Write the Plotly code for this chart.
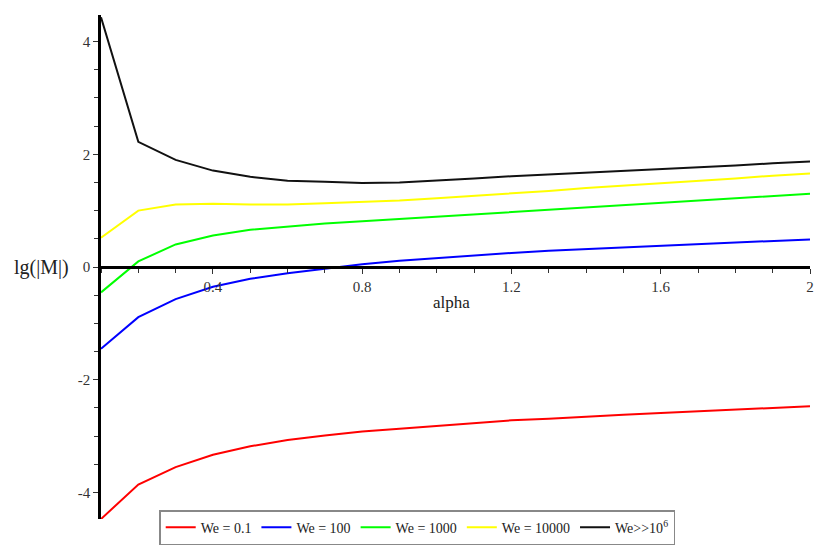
import plotly.graph_objects as go

# alpha grid and lg(|M|) for each Weber number
alpha = [0.1, 0.2, 0.3, 0.4, 0.5, 0.6, 0.7, 0.8, 0.9, 1.0,
         1.1, 1.2, 1.3, 1.4, 1.5, 1.6, 1.7, 1.8, 1.9, 2.0]

we_01 = [-4.47, -3.86, -3.55, -3.33, -3.18, -3.07, -2.99, -2.92, -2.87, -2.82,
         -2.77, -2.72, -2.69, -2.65, -2.62, -2.59, -2.56, -2.53, -2.50, -2.47]
we_100 = [-1.45, -0.89, -0.57, -0.35, -0.21, -0.11, -0.03, 0.05, 0.11, 0.16,
          0.21, 0.25, 0.29, 0.32, 0.35, 0.38, 0.41, 0.44, 0.47, 0.49]
we_1000 = [-0.45, 0.10, 0.40, 0.56, 0.66, 0.72, 0.77, 0.81, 0.85, 0.89,
           0.93, 0.97, 1.01, 1.05, 1.09, 1.13, 1.17, 1.21, 1.25, 1.30]
we_10000 = [0.52, 1.00, 1.11, 1.12, 1.11, 1.11, 1.13, 1.15, 1.18, 1.22,
            1.26, 1.31, 1.35, 1.40, 1.44, 1.49, 1.53, 1.57, 1.62, 1.66]
we_big = [4.43, 2.22, 1.90, 1.71, 1.60, 1.53, 1.51, 1.49, 1.50, 1.53,
          1.57, 1.61, 1.64, 1.67, 1.71, 1.74, 1.77, 1.80, 1.84, 1.87]

series_names = ["We = 0.1", "We = 100", "We = 1000", "We = 10000", "We>>10<sup>6</sup>"]
series_values = [we_01, we_100, we_1000, we_10000, we_big]
series_colors = ["#ff0000", "#0000ff", "#00ff00", "#ffff00", "#111111"]

x_ticks = [0.4, 0.8, 1.2, 1.6, 2.0]
x_ticktext = ["0.4", "0.8", "1.2", "1.6", "2"]
y_ticks = [-4, -2, 0, 2, 4]
y_ticktext = ["-4", "-2", "0", "2", "4"]

FONT = "Liberation Serif, Times New Roman, serif"

fig = go.Figure()
for name, vals, col in zip(series_names, series_values, series_colors):
    fig.add_trace(go.Scatter(x=alpha, y=vals, mode="lines", name=name,
                             line=dict(color=col, width=2)))

Y_MAX = 4.47
fig.update_layout(
    width=815, height=545,
    margin=dict(l=101, r=5, t=15, b=26, autoexpand=False),
    paper_bgcolor="white", plot_bgcolor="white",
    font=dict(family=FONT, size=14, color="#222222"),
    showlegend=True,
    legend=dict(orientation="h", x=0.446, xanchor="center", y=-0.052, yanchor="bottom",
                bordercolor="#888888", borderwidth=1.5, bgcolor="white",
                font=dict(family=FONT, size=14, color="#222222"),
                tracegroupgap=0, itemwidth=30),
    xaxis=dict(range=[0.1, 2.0], anchor="free", position=0.5,
               showline=True, linecolor="black", linewidth=2.5,
               showgrid=False, zeroline=False,
               tickvals=x_ticks, ticktext=x_ticktext,
               ticks="outside", ticklen=5, tickcolor="#333333", tickwidth=1,
               minor=dict(ticks="outside", dtick=0.1, tick0=0, ticklen=4,
                          tickcolor="#333333", showgrid=False),
               tickfont=dict(family=FONT, size=15, color="#333333")),
    yaxis=dict(range=[-Y_MAX, Y_MAX],
               showline=True, linecolor="black", linewidth=2.5,
               showgrid=False, zeroline=False,
               tickvals=y_ticks, ticktext=y_ticktext,
               ticks="outside", ticklen=5, tickcolor="#333333", tickwidth=1,
               minor=dict(ticks="outside", dtick=0.5, tick0=0, ticklen=4,
                          tickcolor="#333333", showgrid=False),
               tickfont=dict(family=FONT, size=15, color="#333333")),
)

fig.add_annotation(text="lg(|M|)", xref="paper", yref="paper", x=-0.042, y=0.5,
                   xanchor="right", yanchor="middle", showarrow=False,
                   font=dict(family=FONT, size=20, color="#222222"))
fig.add_annotation(text="alpha", xref="paper", yref="paper", x=0.495, y=0.43,
                   xanchor="center", yanchor="middle", showarrow=False,
                   font=dict(family=FONT, size=17, color="#222222"))

fig.write_html("out.html")
